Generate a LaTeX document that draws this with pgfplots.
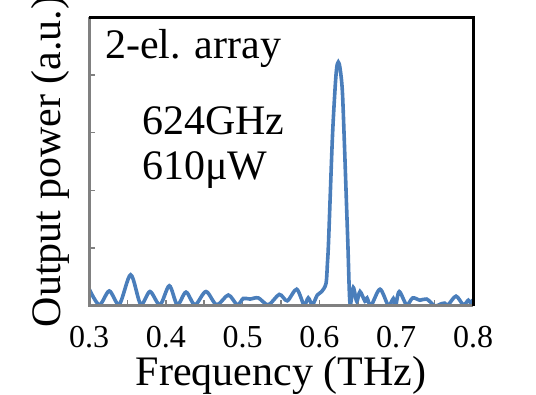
\documentclass[border=0pt]{standalone}
\usepackage{fontspec}
\setmainfont{Liberation Serif}
\usepackage{pgfplots}
\pgfplotsset{compat=1.18}
\definecolor{curve}{HTML}{4A7EBB}
\definecolor{axgray}{HTML}{808080}
\begin{document}
\begin{tikzpicture}
\begin{axis}[
  name=ax,
  at={(89bp,89bp)}, anchor=south west,
  scale only axis, width=384bp, height=289bp,
  xmin=0.3, xmax=0.8, ymin=0, ymax=5,
  axis line style={draw=none},
  xtick={0.3,0.4,0.5,0.6,0.7,0.8},
  xticklabels={0.3,0.4,0.5,0.6,0.7,0.8},
  minor xtick={0.35,0.45,0.55,0.65,0.75},
  ytick={1,2,3,4}, yticklabels={},
  xtick pos=left, ytick pos=left,
  tick align=inside,
  major tick length=6bp, minor tick length=6bp,
  tick style={axgray, line width=1.5bp},
  minor tick style={axgray, line width=1.5bp},
  xticklabel style={font=\fontsize{32bp}{36bp}\selectfont, yshift=-17bp},
  xlabel={Frequency (THz)},
  ylabel={Output power (a.u.)},
  xlabel style={font=\fontsize{42bp}{48bp}\selectfont, at={(axis description cs:0.5,0)}, anchor=base, yshift=-79bp},
  ylabel style={font=\fontsize{42bp}{48bp}\selectfont, at={(axis description cs:0,0.5)}, anchor=base, yshift=28bp},
  clip mode=individual,
]
\addplot[curve, line width=3.6bp, smooth, tension=0.5] coordinates {
(0.3000,0.30) (0.3134,0.02) (0.3264,0.26) (0.3395,0.03) (0.3543,0.54)
(0.3673,0.03) (0.3794,0.25) (0.3924,0.02) (0.4046,0.35) (0.4150,0.02)
(0.4263,0.24) (0.4380,0.02) (0.4523,0.25) (0.4663,0.02) (0.4814,0.19)
(0.4931,0.02) (0.5009,0.13) (0.5096,0.12) (0.5204,0.14) (0.5335,0.02)
(0.5478,0.20) (0.5582,0.09) (0.5704,0.29) (0.5800,0.02) (0.5855,0.14)
(0.5908,0.02) (0.5973,0.19) (0.6030,0.25) (0.6086,0.39) (0.6105,0.75)
(0.6120,1.14) (0.6168,2.87) (0.6203,3.74) (0.6225,4.12) (0.6246,4.22)
(0.6268,4.12) (0.6298,3.74) (0.6324,2.87) (0.6369,1.14) (0.6398,0.05)
(0.6441,0.32) (0.6486,0.08) (0.6529,0.25) (0.6594,0.08) (0.6620,0.14)
(0.6672,0.01) (0.6789,0.29) (0.6898,0.01) (0.6963,0.13) (0.6993,0.01)
(0.7040,0.25) (0.7136,0.02) (0.7215,0.14) (0.7310,0.10) (0.7397,0.12)
(0.7505,0.00) (0.7570,0.03) (0.7630,0.05) (0.7675,0.02) (0.7779,0.17)
(0.7874,0.02) (0.7939,0.10) (0.7970,0.05) (0.8000,0.11)
};
\node[anchor=base west, inner sep=0pt, font=\fontsize{42bp}{48bp}\selectfont] at (axis cs:0.3208,4.29) {2-el. array};
\node[anchor=base west, inner sep=0pt, font=\fontsize{42bp}{48bp}\selectfont] at (axis cs:0.369,2.96) {624GHz};
\node[anchor=base west, inner sep=0pt, font=\fontsize{42bp}{48bp}\selectfont] at (axis cs:0.369,2.18) {610μW};
\end{axis}
\draw[axgray, line width=3bp] (ax.north west) -- (ax.south west) -- (ax.south east);
\draw[black, line width=3bp] (ax.north west) -- (ax.north east) -- (ax.south east);
\pgfresetboundingbox
\useasboundingbox (0,0) rectangle (536bp,395bp);
\end{tikzpicture}
\end{document}
